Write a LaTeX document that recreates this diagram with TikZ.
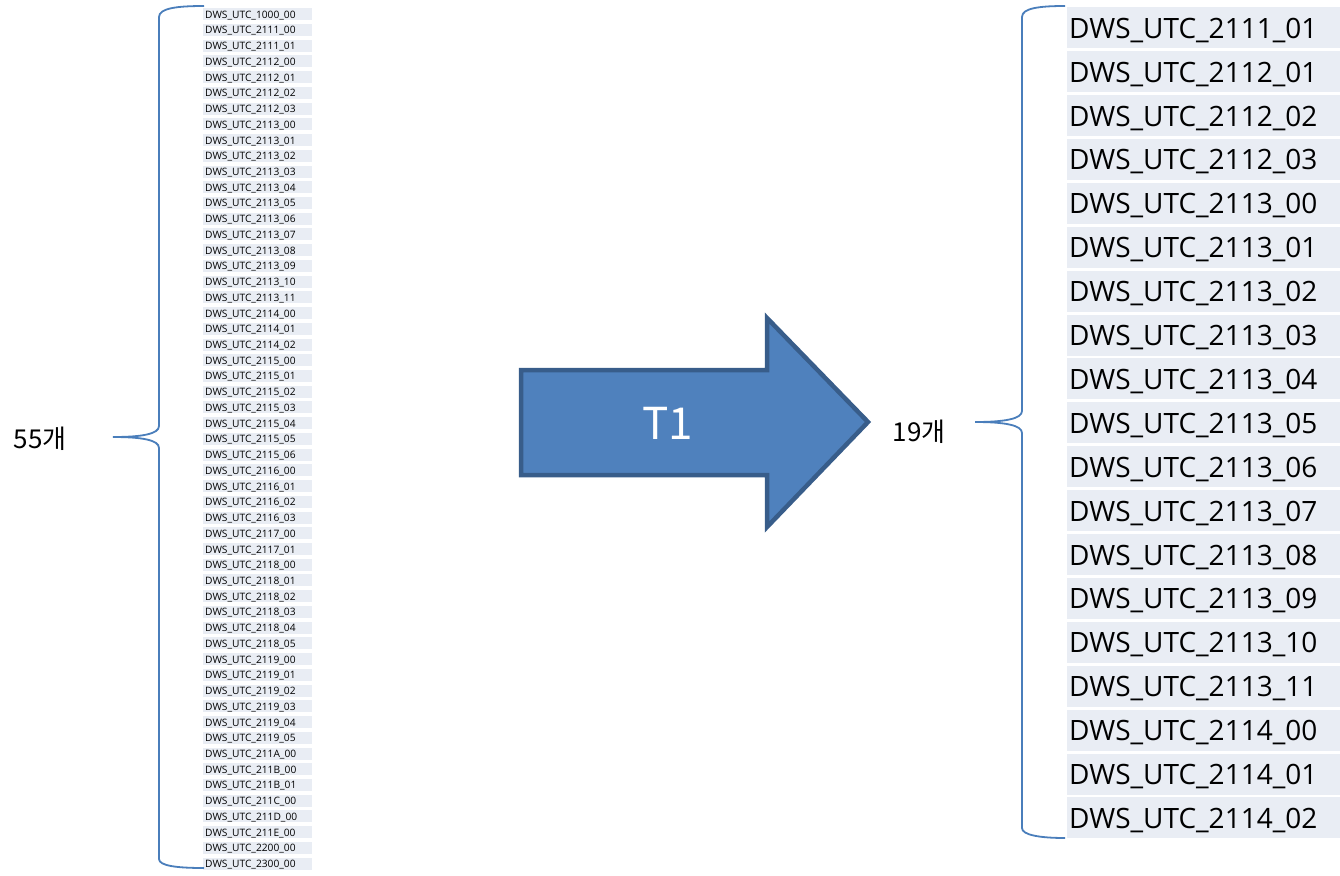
\documentclass[tikz,border=0pt]{standalone}
\usepackage{fontspec}
\setmainfont{Open Sans}
\newfontfamily\krfont{Noto Sans CJK KR}
\definecolor{rowfill}{HTML}{E9EDF4}
\definecolor{bracecol}{HTML}{4A7EBB}
\definecolor{arrowfill}{HTML}{4F81BD}
\definecolor{arrowline}{HTML}{385D8A}
\begin{document}
\begin{tikzpicture}[x=1pt,y=-1pt,
  smallrow/.style={anchor=north west,fill=rowfill,inner xsep=2pt,inner ysep=0pt,
    text width=105pt,align=left,minimum height=12pt,text height=8pt,text depth=0pt,
    font=\fontsize{10.2}{11}\selectfont},
  bigrow/.style={anchor=north west,fill=rowfill,inner xsep=2pt,inner ysep=0pt,
    text width=269pt,align=left,minimum height=41pt,text height=21pt,text depth=0pt,
    font=\fontsize{28}{30}\selectfont},
  bracket/.style={draw=bracecol,line width=1.8pt},
  countlabel/.style={font=\krfont\fontsize{26}{28}\selectfont},
  bigarrow/.style={fill=arrowfill,draw=arrowline,line width=4.5pt,line join=miter}]
\useasboundingbox (0,0) rectangle (1340,875);

% source list (55 entries)
\foreach \a/\b [count=\i] in {1000/00,2111/00,2111/01,2112/00,2112/01,2112/02,2112/03,
  2113/00,2113/01,2113/02,2113/03,2113/04,2113/05,2113/06,2113/07,2113/08,2113/09,2113/10,2113/11,
  2114/00,2114/01,2114/02,2115/00,2115/01,2115/02,2115/03,2115/04,2115/05,2115/06,
  2116/00,2116/01,2116/02,2116/03,2117/00,2117/01,
  2118/00,2118/01,2118/02,2118/03,2118/04,2118/05,
  2119/00,2119/01,2119/02,2119/03,2119/04,2119/05,
  211A/00,211B/00,211B/01,211C/00,211D/00,211E/00,2200/00,2300/00}
  \node[smallrow] (l\i) at (203,{8+(\i-1)*15.73}) {DWS\_UTC\_\a\_\b};

% result list (19 entries)
\foreach \a/\b [count=\i] in {2111/01,2112/01,2112/02,2112/03,
  2113/00,2113/01,2113/02,2113/03,2113/04,2113/05,2113/06,2113/07,2113/08,2113/09,2113/10,2113/11,
  2114/00,2114/01,2114/02}
  \node[bigrow] (r\i) at (1067,{7+(\i-1)*43.9}) {DWS\_UTC\_\a\_\b};

% curly braces
\draw[bracket] (204,6) .. controls (178,6) and (159,8) .. (159,17) -- (159,426)
  .. controls (159,434) and (142,437) .. (113,437)
  .. controls (142,437) and (159,440) .. (159,448) -- (159,859)
  .. controls (159,866) and (178,868) .. (204,868);
\draw[bracket] (1065,6) .. controls (1040,6) and (1022,8) .. (1022,17) -- (1022,411)
  .. controls (1022,419) and (1004,422) .. (975,422)
  .. controls (1004,422) and (1022,425) .. (1022,433) -- (1022,828)
  .. controls (1022,835) and (1040,838) .. (1065,838);

\node[countlabel] (n55) at (40,439) {55개};
\node[countlabel] (n19) at (919,432) {19개};

% block arrow
\draw[bigarrow] (521,370) -- (767,370) -- (767,318) -- (868,422) -- (767,527)
  -- (767,475) -- (521,475) -- cycle;
\node[text=white,font=\krfont\fontsize{44}{48}\selectfont] (t1) at (668,423) {T1};
\end{tikzpicture}
\end{document}
